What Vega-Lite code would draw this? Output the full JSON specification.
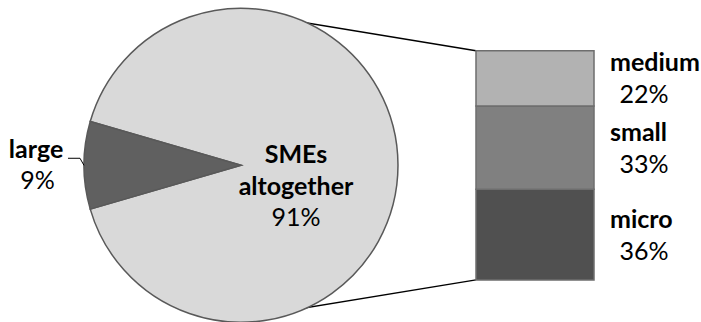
{
  "$schema": "https://vega.github.io/schema/vega-lite/v6.json",
  "width": 701,
  "height": 322,
  "padding": 0,
  "autosize": {"type": "fit", "contains": "padding"},
  "config": {
    "view": {"stroke": null},
    "font": "Lato",
    "text": {"font": "Lato", "fontSize": 25, "color": "#000000"}
  },
  "datasets": {
    "firms": [
      {"segment": "SMEs altogether", "share": 0.91},
      {"segment": "large", "share": 0.09}
    ],
    "smes": [
      {"segment": "micro", "share": 0.36},
      {"segment": "small", "share": 0.33},
      {"segment": "medium", "share": 0.22}
    ]
  },
  "layer": [
    {
      "description": "connector from the top of the pie to the top of the breakdown bar",
      "data": {"values": [{}]},
      "mark": {"type": "rule", "stroke": "#000000", "strokeWidth": 1.5},
      "encoding": {
        "x": {"datum": 0.9332, "type": "quantitative", "scale": {"domain": [0, 2.7145], "nice": false, "zero": false}, "axis": null},
        "y": {"datum": 1.063, "type": "quantitative", "scale": {"domain": [-0.1355, 1.1114], "nice": false, "zero": false}, "axis": null},
        "x2": {"datum": 1.8432},
        "y2": {"datum": 0.91}
      }
    },
    {
      "description": "connector from the bottom of the pie to the bottom of the breakdown bar",
      "data": {"values": [{}]},
      "mark": {"type": "rule", "stroke": "#000000", "strokeWidth": 1.5},
      "encoding": {
        "x": {"datum": 0.9332, "type": "quantitative", "scale": {"domain": [0, 2.7145], "nice": false, "zero": false}, "axis": null},
        "y": {"datum": -0.153, "type": "quantitative", "scale": {"domain": [-0.1355, 1.1114], "nice": false, "zero": false}, "axis": null},
        "x2": {"datum": 1.8432},
        "y2": {"datum": 0}
      }
    },
    {
      "description": "pie: large firms vs all SMEs, large slice centred at nine o'clock",
      "data": {"name": "firms"},
      "transform": [
        {"stack": "share", "groupby": [], "sort": [{"field": "share", "order": "ascending"}], "as": ["lo", "hi"]}
      ],
      "mark": {"type": "arc", "outerRadius": 157, "stroke": "#595959", "strokeWidth": 1.5},
      "encoding": {
        "x": {"datum": 0.9332, "type": "quantitative", "scale": {"domain": [0, 2.7145], "nice": false, "zero": false}, "axis": null},
        "y": {"datum": 0.455, "type": "quantitative", "scale": {"domain": [-0.1355, 1.1114], "nice": false, "zero": false}, "axis": null},
        "theta": {"field": "lo", "type": "quantitative", "scale": {"domain": [0, 1], "range": [4.4296, 10.7128]}},
        "theta2": {"field": "hi"},
        "color": {
          "field": "segment",
          "type": "nominal",
          "scale": {
            "domain": ["SMEs altogether", "large", "medium", "small", "micro"],
            "range": ["#d9d9d9", "#606060", "#b2b2b2", "#808080", "#505050"]
          },
          "legend": null
        }
      }
    },
    {
      "description": "stacked bar splitting the SME share by size class",
      "data": {"name": "smes"},
      "transform": [
        {"stack": "share", "groupby": [], "sort": [{"field": "share", "order": "descending"}], "as": ["lo", "hi"]}
      ],
      "mark": {"type": "bar", "stroke": "#6e6e6e", "strokeWidth": 1.5},
      "encoding": {
        "x": {"datum": 1.8432, "type": "quantitative", "scale": {"domain": [0, 2.7145], "nice": false, "zero": false}, "axis": null},
        "x2": {"datum": 2.3002},
        "y": {"field": "lo", "type": "quantitative", "scale": {"domain": [-0.1355, 1.1114], "nice": false, "zero": false}, "axis": null},
        "y2": {"field": "hi"},
        "color": {
          "field": "segment",
          "type": "nominal",
          "scale": {
            "domain": ["SMEs altogether", "large", "medium", "small", "micro"],
            "range": ["#d9d9d9", "#606060", "#b2b2b2", "#808080", "#505050"]
          },
          "legend": null
        }
      }
    },
    {
      "description": "size-class names beside the bar",
      "data": {"name": "smes"},
      "transform": [
        {"stack": "share", "groupby": [], "sort": [{"field": "share", "order": "descending"}], "as": ["lo", "hi"]},
        {"calculate": "(datum.lo + datum.hi) / 2", "as": "mid"}
      ],
      "mark": {"type": "text", "align": "left", "baseline": "alphabetic", "dy": -7, "fontWeight": "bold"},
      "encoding": {
        "x": {"datum": 2.3621, "type": "quantitative", "scale": {"domain": [0, 2.7145], "nice": false, "zero": false}, "axis": null},
        "y": {"field": "mid", "type": "quantitative", "scale": {"domain": [-0.1355, 1.1114], "nice": false, "zero": false}, "axis": null},
        "text": {"field": "segment"}
      }
    },
    {
      "description": "size-class shares beside the bar",
      "data": {"name": "smes"},
      "transform": [
        {"stack": "share", "groupby": [], "sort": [{"field": "share", "order": "descending"}], "as": ["lo", "hi"]},
        {"calculate": "(datum.lo + datum.hi) / 2", "as": "mid"}
      ],
      "mark": {"type": "text", "align": "center", "baseline": "alphabetic", "dy": 25},
      "encoding": {
        "x": {"datum": 2.4938, "type": "quantitative", "scale": {"domain": [0, 2.7145], "nice": false, "zero": false}, "axis": null},
        "y": {"field": "mid", "type": "quantitative", "scale": {"domain": [-0.1355, 1.1114], "nice": false, "zero": false}, "axis": null},
        "text": {"field": "share", "format": ".0%"}
      }
    },
    {
      "description": "name of the SME slice, one word per line",
      "data": {"name": "firms"},
      "transform": [{"filter": "datum.segment === 'SMEs altogether'"}],
      "mark": {"type": "text", "align": "center", "baseline": "alphabetic", "fontWeight": "bold", "lineBreak": " ", "lineHeight": 32},
      "encoding": {
        "x": {"datum": 1.1462, "type": "quantitative", "scale": {"domain": [0, 2.7145], "nice": false, "zero": false}, "axis": null},
        "y": {"datum": 0.4636, "type": "quantitative", "scale": {"domain": [-0.1355, 1.1114], "nice": false, "zero": false}, "axis": null},
        "text": {"field": "segment"}
      }
    },
    {
      "description": "share of the SME slice",
      "data": {"name": "firms"},
      "transform": [{"filter": "datum.segment === 'SMEs altogether'"}],
      "mark": {"type": "text", "align": "center", "baseline": "alphabetic"},
      "encoding": {
        "x": {"datum": 1.1462, "type": "quantitative", "scale": {"domain": [0, 2.7145], "nice": false, "zero": false}, "axis": null},
        "y": {"datum": 0.2142, "type": "quantitative", "scale": {"domain": [-0.1355, 1.1114], "nice": false, "zero": false}, "axis": null},
        "text": {"field": "share", "format": ".0%"}
      }
    },
    {
      "description": "name of the large-firm slice, outside the pie",
      "data": {"name": "firms"},
      "transform": [{"filter": "datum.segment === 'large'"}],
      "mark": {"type": "text", "align": "right", "baseline": "alphabetic", "fontWeight": "bold"},
      "encoding": {
        "x": {"datum": 0.2451, "type": "quantitative", "scale": {"domain": [0, 2.7145], "nice": false, "zero": false}, "axis": null},
        "y": {"datum": 0.4852, "type": "quantitative", "scale": {"domain": [-0.1355, 1.1114], "nice": false, "zero": false}, "axis": null},
        "text": {"field": "segment"}
      }
    },
    {
      "description": "share of the large-firm slice",
      "data": {"name": "firms"},
      "transform": [{"filter": "datum.segment === 'large'"}],
      "mark": {"type": "text", "align": "center", "baseline": "alphabetic"},
      "encoding": {
        "x": {"datum": 0.1452, "type": "quantitative", "scale": {"domain": [0, 2.7145], "nice": false, "zero": false}, "axis": null},
        "y": {"datum": 0.3602, "type": "quantitative", "scale": {"domain": [-0.1355, 1.1114], "nice": false, "zero": false}, "axis": null},
        "text": {"field": "share", "format": ".0%"}
      }
    },
    {
      "description": "leader line for the large-firm label, horizontal part",
      "data": {"values": [{}]},
      "mark": {"type": "rule", "stroke": "#000000", "strokeWidth": 1},
      "encoding": {
        "x": {"datum": 0.2633, "type": "quantitative", "scale": {"domain": [0, 2.7145], "nice": false, "zero": false}, "axis": null},
        "x2": {"datum": 0.3098},
        "y": {"datum": 0.4829, "type": "quantitative", "scale": {"domain": [-0.1355, 1.1114], "nice": false, "zero": false}, "axis": null}
      }
    },
    {
      "description": "leader line for the large-firm label, part reaching the pie edge",
      "data": {"values": [{}]},
      "mark": {"type": "rule", "stroke": "#000000", "strokeWidth": 1},
      "encoding": {
        "x": {"datum": 0.3098, "type": "quantitative", "scale": {"domain": [0, 2.7145], "nice": false, "zero": false}, "axis": null},
        "x2": {"datum": 0.3252},
        "y": {"datum": 0.4829, "type": "quantitative", "scale": {"domain": [-0.1355, 1.1114], "nice": false, "zero": false}, "axis": null},
        "y2": {"datum": 0.455}
      }
    }
  ]
}
